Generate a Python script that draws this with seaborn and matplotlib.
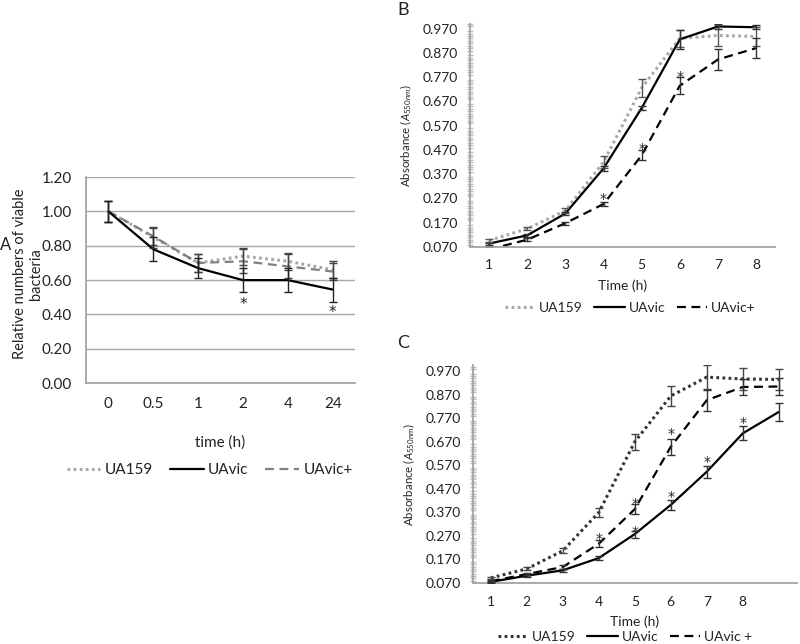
import numpy as np
import pandas as pd
import matplotlib
matplotlib.use("Agg")
import matplotlib.pyplot as plt
from matplotlib.ticker import MultipleLocator, FixedLocator
import matplotlib.transforms as mtransforms
import seaborn as sns

# ---------------- data ----------------
# Panel A
a_times = ["0", "0.5", "1", "2", "4", "24"]
a_ua159 = [1.00, 0.85, 0.70, 0.74, 0.71, 0.66]
a_ua159_err = [0.06, 0.06, 0.05, 0.05, 0.05, 0.05]
a_uavic = [1.00, 0.78, 0.67, 0.60, 0.60, 0.545]
a_uavic_err = [0.06, 0.07, 0.06, 0.07, 0.07, 0.07]
a_uavicp = [1.00, 0.855, 0.70, 0.71, 0.68, 0.65]
a_uavicp_err = [0.06, 0.05, 0.05, 0.07, 0.07, 0.05]
a_star_x = ["2", "24"]
a_star_y = [0.48, 0.435]

# Panel B
b_times = [1, 2, 3, 4, 5, 6, 7, 8]
b_ua159 = [0.097, 0.145, 0.22, 0.42, 0.726, 0.93, 0.942, 0.938]
b_ua159_err = [0.005, 0.007, 0.01, 0.024, 0.037, 0.035, 0.045, 0.04]
b_uavic = [0.084, 0.118, 0.208, 0.394, 0.643, 0.926, 0.979, 0.976]
b_uavic_err = [0.004, 0.005, 0.008, 0.01, 0.01, 0.04, 0.012, 0.008]
b_uavicp = [0.060, 0.100, 0.168, 0.247, 0.448, 0.735, 0.843, 0.890]
b_uavicp_err = [0.004, 0.005, 0.006, 0.01, 0.02, 0.035, 0.045, 0.04]
b_star_x = [4, 5, 6]
b_star_y = [0.285, 0.493, 0.79]

# Panel C
c_times = [1, 2, 3, 4, 5, 6, 7, 8, 9]
c_ticklabels = ["1", "2", "3", "4", "5", "6", "7", "8"]
c_ua159 = [0.092, 0.130, 0.207, 0.370, 0.670, 0.865, 0.945, 0.937, 0.935]
c_ua159_err = [0.005, 0.006, 0.01, 0.02, 0.035, 0.043, 0.05, 0.045, 0.045]
c_uavic = [0.075, 0.101, 0.124, 0.176, 0.278, 0.402, 0.543, 0.706, 0.797]
c_uavic_err = [0.003, 0.005, 0.007, 0.008, 0.015, 0.02, 0.025, 0.03, 0.04]
c_uavicp = [0.078, 0.108, 0.138, 0.237, 0.384, 0.649, 0.847, 0.903, 0.905]
c_uavicp_err = [0.004, 0.005, 0.01, 0.015, 0.022, 0.035, 0.045, 0.035, 0.035]
c_star_x = [4, 5, 6, 5, 6, 7, 8]
c_star_y = [0.275, 0.425, 0.72, 0.303, 0.452, 0.60, 0.766]

# ---------------- style ----------------
sns.set_theme(style="white")
plt.rcParams["font.family"] = ["Lato", "DejaVu Sans"]
plt.rcParams["mathtext.fontset"] = "custom"
plt.rcParams["mathtext.rm"] = "Lato"
plt.rcParams["mathtext.it"] = "Lato:italic"

fig = plt.figure(figsize=(8.0, 6.44), dpi=100)
TXT = "#222222"
SPINE = "#a0a0a0"


def draw_series(ax, x, y, err, color, kind, lw, ecolor, label):
    df = pd.DataFrame({"x": x, "y": y})
    sns.lineplot(data=df, x="x", y="y", ax=ax, color=color, lw=lw,
                 label=label, legend=False, sort=False)
    line = ax.lines[-1]
    if kind == "dot":
        line.set_linestyle((0, (0.9, 1.1)))
        line.set_dash_capstyle("butt")
    elif kind == "dash":
        line.set_linestyle((0, (4, 2.5)))
    ax.errorbar(x, y, yerr=err, fmt="none", ecolor=ecolor, elinewidth=1.0,
                capsize=3, capthick=1.0, zorder=3)
    return line


def stars(ax, xs, ys, size):
    off = mtransforms.offset_copy(ax.transData, fig=fig, x=0, y=-3, units="points")
    for sx, sy in zip(xs, ys):
        ax.text(sx, sy, "*", ha="center", va="center", fontsize=size,
                color=TXT, family="DejaVu Sans", transform=off)


# ---------------- Panel A ----------------
axA = fig.add_axes([0.1075, 0.405, 0.3365, 0.32])
xa = np.arange(len(a_times))
hA1 = draw_series(axA, xa, a_ua159, a_ua159_err, "#a8a8a8", "dot", 2.2, "#444444", "UA159")
hA3 = draw_series(axA, xa, a_uavicp, a_uavicp_err, "#808080", "dash", 1.6, "#444444", "UAvic+")
hA2 = draw_series(axA, xa, a_uavic, a_uavic_err, "black", "solid", 1.6, "#222222", "UAvic")
stars(axA, [a_times.index(s) for s in a_star_x], a_star_y, 11)
axA.set_xlim(-0.5, len(a_times) - 0.5)
axA.set_ylim(0, 1.2)
axA.set_xticks(xa)
axA.set_xticklabels(a_times)
axA.set_yticks(np.arange(0, 1.21, 0.2))
axA.set_yticklabels([f"{v:.2f}" for v in np.arange(0, 1.21, 0.2)])
axA.yaxis.grid(True, color="#a8a8a8", lw=1.0)
axA.set_axisbelow(True)
for s in ["top", "right"]:
    axA.spines[s].set_visible(False)
for s in ["left", "bottom"]:
    axA.spines[s].set_color(SPINE)
axA.tick_params(axis="both", length=0, labelsize=11, colors=TXT, pad=10)
axA.tick_params(axis="x", pad=10)
axA.set_xlabel("time (h)", fontsize=11, color=TXT)
axA.xaxis.set_label_coords(0.5, -0.255)
axA.set_ylabel("Relative numbers of viable\nbacteria", fontsize=10.5, color=TXT)
axA.yaxis.set_label_coords(-0.16, 0.53)
axA.legend([hA1, hA2, hA3], ["UA159", "UAvic", "UAvic+"], loc="upper center",
           bbox_to_anchor=(0.46, -0.32), ncol=3, frameon=False, fontsize=11,
           handlelength=2.2, handletextpad=0.3, columnspacing=1.1, labelcolor=TXT)
fig.text(0.0, 0.62, "A", fontsize=12, color=TXT, va="center")


def style_abs(ax, ylim_top, xmax, ticklabels):
    ax.set_ylim(0.07, ylim_top)
    ax.set_xlim(0.5, xmax)
    ax.yaxis.set_major_locator(FixedLocator(np.arange(0.07, 0.971, 0.1)))
    ax.set_yticklabels([f"{v:.3f}" for v in np.arange(0.07, 0.971, 0.1)])
    ax.yaxis.set_minor_locator(MultipleLocator(0.01))
    ax.set_xticks(range(1, len(ticklabels) + 1))
    ax.set_xticklabels(ticklabels)
    for s in ["top", "right"]:
        ax.spines[s].set_visible(False)
    for s in ["left", "bottom"]:
        ax.spines[s].set_color(SPINE)
    ax.tick_params(axis="y", which="major", direction="inout", length=7,
                   color=SPINE, labelsize=10, labelcolor=TXT, pad=5)
    ax.tick_params(axis="y", which="minor", direction="inout", length=4,
                   color="#c0c0c0", left=True)
    ax.tick_params(axis="x", length=0, labelsize=10, labelcolor=TXT, pad=9)
    ax.set_xlabel("Time (h)", fontsize=10, color=TXT, labelpad=6)
    ax.set_ylabel(r"Absorbance ($\mathit{A}_{550nm}$)", fontsize=8.3, color=TXT, labelpad=6)


# ---------------- Panel B ----------------
axB = fig.add_axes([0.5875, 0.6165, 0.3815, 0.3465])
hB1 = draw_series(axB, b_times, b_ua159, b_ua159_err, "#a8a8a8", "dot", 2.2, "#555555", "UA159")
hB3 = draw_series(axB, b_times, b_uavicp, b_uavicp_err, "black", "dash", 1.6, "#333333", "UAvic+")
hB2 = draw_series(axB, b_times, b_uavic, b_uavic_err, "black", "solid", 1.6, "#333333", "UAvic")
stars(axB, b_star_x, b_star_y, 10)
style_abs(axB, 0.99, 8.5, [str(t) for t in b_times])
axB.legend([hB1, hB2, hB3], ["UA159", "UAvic", "UAvic+"], loc="upper center",
           bbox_to_anchor=(0.525, -0.19), ncol=3, frameon=False, fontsize=10,
           handlelength=2.2, handletextpad=0.3, columnspacing=0.8, labelcolor=TXT)
fig.text(0.497, 0.985, "B", fontsize=13, color=TXT, va="center")

# ---------------- Panel C ----------------
axC = fig.add_axes([0.591, 0.0947, 0.405, 0.338])
hC1 = draw_series(axC, c_times, c_ua159, c_ua159_err, "#333333", "dot", 2.2, "#444444", "UA159")
hC3 = draw_series(axC, c_times, c_uavicp, c_uavicp_err, "black", "dash", 1.6, "#333333", "UAvic +")
hC2 = draw_series(axC, c_times, c_uavic, c_uavic_err, "black", "solid", 1.6, "#333333", "UAvic")
stars(axC, c_star_x, c_star_y, 10)
style_abs(axC, 0.995, 9.5, c_ticklabels)
axC.legend([hC1, hC2, hC3], ["UA159", "UAvic", "UAvic +"], loc="upper center",
           bbox_to_anchor=(0.47, -0.163), ncol=3, frameon=False, fontsize=10,
           handlelength=2.2, handletextpad=0.3, columnspacing=0.8, labelcolor=TXT)
fig.text(0.497, 0.467, "C", fontsize=13, color=TXT, va="center")

fig.savefig("out.png", dpi=100)
